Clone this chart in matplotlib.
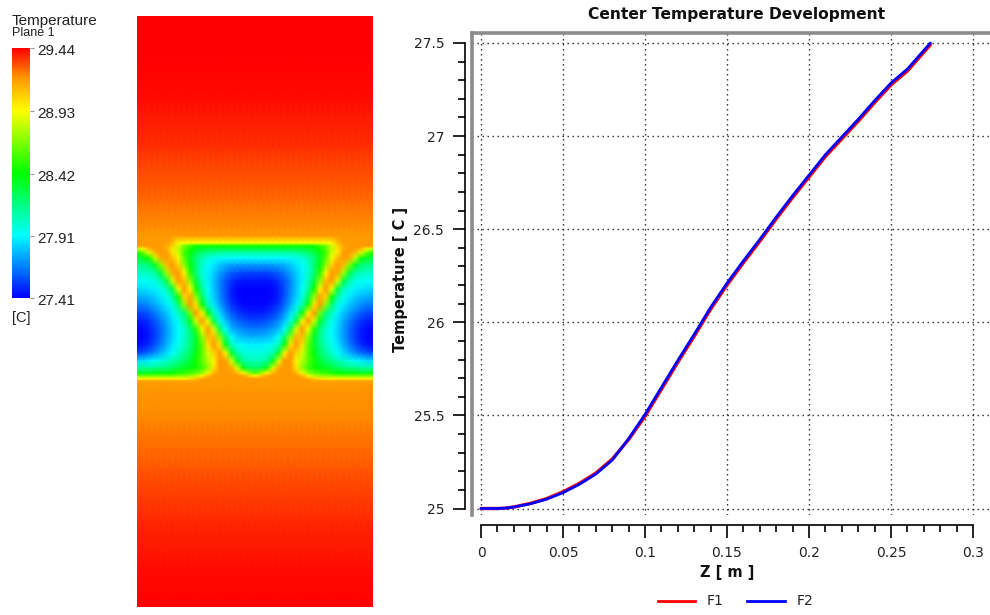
import numpy as np
import matplotlib
matplotlib.use('Agg')
import matplotlib.pyplot as plt
from matplotlib.colors import LinearSegmentedColormap, Normalize
from matplotlib.cm import ScalarMappable
from matplotlib.lines import Line2D
from matplotlib.ticker import FixedLocator
from matplotlib.transforms import ScaledTranslation

# curve
z_pos = [0, .01, .015, .02, .03, .04, .05, .06, .07, .08, .09, .1, .11, .12, .13, .14, .15,
         .16, .17, .18, .19, .2, .21, .22, .23, .24, .25, .26, .27, .274]
temp_f2 = [25, 25, 25.002, 25.008, 25.025, 25.05, 25.085, 25.13, 25.185, 25.26, 25.375, 25.505,
           25.65, 25.795, 25.935, 26.08, 26.21, 26.33, 26.445, 26.565, 26.68, 26.79, 26.9, 26.995,
           27.09, 27.19, 27.285, 27.36, 27.46, 27.5]
temp_f1 = [25, 25, 25.002, 25.008, 25.027, 25.053, 25.09, 25.135, 25.19, 25.265, 25.37, 25.495,
           25.64, 25.785, 25.925, 26.07, 26.2, 26.32, 26.435, 26.555, 26.67, 26.78, 26.89, 26.985,
           27.08, 27.18, 27.275, 27.35, 27.45, 27.49]

cbar_ticks = [27.41, 27.91, 28.42, 28.93, 29.44]

# temperature on the plane, left half of the picture (it is mirror symmetric)
plane_x = [137 + 5.9 * i for i in range(41)]
band_y = [236, 243, 246, 249, 253, 258, 265, 273, 281, 289, 297, 305, 313, 321, 329, 337, 345,
          353, 361, 368, 373, 376, 379, 381, 384]
band_t = [
    [29.19]*21,
    [29.19]*6 + [29.1, 28.95] + [28.92]*13,
    [29.19]*5 + [29.15, 29.05, 28.85, 28.65, 28.55] + [28.45]*11,
    [28.8, 28.95, 29.1, 29.19, 29.19, 29.15, 29.0, 28.8, 28.6, 28.45, 28.38, 28.33] + [28.3]*9,
    [28.5, 28.6, 28.85, 29.1, 29.19, 29.19, 29.0, 28.85, 28.55, 28.4, 28.28, 28.2, 28.15, 28.12, 28.1, 28.09, 28.08, 28.08, 28.08, 28.08, 28.08],
    [28.3, 28.35, 28.45, 28.8, 29.15, 29.19, 29.1, 28.9, 28.6, 28.35, 28.2, 28.08, 28.0, 27.96, 27.94, 27.93, 27.92, 27.92, 27.92, 27.92, 27.92],
    [28.15, 28.15, 28.2, 28.35, 28.7, 29.1, 29.19, 29.05, 28.7, 28.4, 28.2, 28.02, 27.92, 27.87, 27.81, 27.76, 27.74, 27.73, 27.72, 27.72, 27.72],
    [28.03, 28.03, 28.05, 28.1, 28.3, 28.75, 29.15, 29.19, 28.95, 28.5, 28.2, 28.0, 27.9, 27.82, 27.73, 27.66, 27.6, 27.57, 27.55, 27.55, 27.55],
    [27.93, 27.93, 27.95, 27.98, 28.08, 28.3, 28.85, 29.19, 29.1, 28.7, 28.3, 28.05, 27.9, 27.8, 27.68, 27.58, 27.52, 27.47, 27.45, 27.45, 27.45],
    [27.84, 27.85, 27.87, 27.9, 27.96, 28.05, 28.3, 28.9, 29.19, 28.95, 28.45, 28.12, 27.93, 27.8, 27.68, 27.57, 27.48, 27.43, 27.41, 27.41, 27.41],
    [27.75, 27.76, 27.78, 27.82, 27.88, 27.95, 28.1, 28.45, 29.05, 29.15, 28.7, 28.25, 27.98, 27.83, 27.7, 27.58, 27.48, 27.43, 27.41, 27.41, 27.41],
    [27.65, 27.66, 27.7, 27.75, 27.8, 27.88, 27.98, 28.2, 28.7, 29.19, 29.0, 28.45, 28.08, 27.88, 27.75, 27.62, 27.52, 27.46, 27.43, 27.42, 27.42],
    [27.55, 27.56, 27.6, 27.66, 27.73, 27.8, 27.9, 28.05, 28.2, 28.65, 29.19, 28.95, 28.4, 28.05, 27.85, 27.7, 27.6, 27.53, 27.49, 27.47, 27.47],
    [27.47, 27.48, 27.52, 27.58, 27.66, 27.75, 27.85, 27.95, 28.1, 28.35, 28.85, 29.19, 28.9, 28.3, 27.98, 27.8, 27.68, 27.62, 27.58, 27.56, 27.55],
    [27.42, 27.43, 27.47, 27.54, 27.62, 27.72, 27.83, 27.92, 28.02, 28.2, 28.5, 28.9, 29.19, 28.85, 28.25, 27.93, 27.78, 27.72, 27.68, 27.66, 27.65],
    [27.41, 27.42, 27.46, 27.53, 27.62, 27.72, 27.83, 27.93, 28.02, 28.15, 28.35, 28.7, 29.1, 29.1, 28.7, 28.2, 27.92, 27.83, 27.79, 27.77, 27.76],
    [27.43, 27.45, 27.5, 27.57, 27.66, 27.76, 27.87, 27.95, 28.05, 28.18, 28.35, 28.6, 29.0, 29.19, 29.0, 28.4, 28.05, 27.95, 27.92, 27.9, 27.9],
    [27.55, 27.57, 27.62, 27.68, 27.76, 27.84, 27.92, 28.02, 28.12, 28.22, 28.4, 28.6, 28.85, 29.05, 29.19, 28.95, 28.35, 28.08, 28.0, 27.98, 27.98],
    [27.85, 27.86, 27.9, 27.93, 27.97, 28.02, 28.08, 28.15, 28.22, 28.32, 28.45, 28.6, 28.78, 28.95, 29.19, 29.19, 28.85, 28.35, 28.12, 28.07, 28.07],
    [28.1, 28.12, 28.12, 28.15, 28.17, 28.2, 28.25, 28.3, 28.36, 28.4, 28.45, 28.55, 28.7, 29.0, 29.19, 29.19, 29.15, 28.85, 28.4, 28.25, 28.22],
    [28.35, 28.35, 28.36, 28.37, 28.38, 28.4, 28.42, 28.48, 28.52, 28.55, 28.6, 28.7, 28.9, 29.1, 29.19, 29.19, 29.19, 29.1, 28.95, 28.7, 28.55],
    [28.65]*7 + [28.68, 28.7, 28.74, 28.8, 28.95, 29.1] + [29.19]*5 + [29.15, 29.05, 28.95],
    [28.95]*9 + [29.0, 29.05, 29.15] + [29.19]*9,
    [29.15]*11 + [29.19]*10,
    [29.19]*21,
]
# above and below the band the field only changes with height
top_y = [16, 60, 100, 150, 200]
top_t = [29.44, 29.44, 29.42, 29.36, 29.27]
bottom_y = [420, 470, 520, 570, 607]
bottom_t = [29.22, 29.3, 29.37, 29.42, 29.44]

half = np.array(band_t)
band = np.hstack([half, half[:, -2::-1]])
plane_y = np.array(top_y + band_y + bottom_y)
plane_t = np.vstack([np.tile(np.array(top_t)[:, None], 41), band,
                     np.tile(np.array(bottom_t)[:, None], 41)])

fig = plt.figure(figsize=(9.9, 6.15), dpi=100)
W, H = 990, 615


def box(x0, y0, x1, y1):
    return [x0 / W, 1 - y1 / H, (x1 - x0) / W, (y1 - y0) / H]


cmap = LinearSegmentedColormap.from_list('cfx', [(0, '#0000ff'), (.25, '#00ffff'), (.5, '#00ff00'), (.75, '#ffff00'),
                                                 (.88, '#ff9900'), (1, '#ff0000')])
norm = Normalize(27.41, 29.44)

# contour plane
ax0 = fig.add_axes(box(137, 16, 373, 607))
ax0.pcolormesh(plane_x, plane_y, plane_t, cmap=cmap, norm=norm, shading='gouraud')
ax0.set_xlim(137, 373)
ax0.set_ylim(607, 16)
ax0.axis('off')

# colour bar
cax = fig.add_axes(box(12, 48, 30, 298))
cb = fig.colorbar(ScalarMappable(norm=norm, cmap=cmap), cax=cax)
cb.outline.set_visible(False)
cb.set_ticks(cbar_ticks)
cb.ax.set_yticklabels(['%.2f' % t for t in cbar_ticks], family='Liberation Sans', fontsize=11, color='#222222')
cb.ax.tick_params(length=3, width=0.8, color='#999999', pad=2)
for lab in cb.ax.get_yticklabels():
    lab.set_transform(lab.get_transform() + ScaledTranslation(0, -1.5 / 100, fig.dpi_scale_trans))
fig.text(12 / W, 1 - 21 / H, 'Temperature', family='Liberation Sans', fontsize=11, color='#222222', va='center')
fig.text(12 / W, 1 - 33.5 / H, 'Plane 1', family='Liberation Sans', fontsize=9, color='#222222', va='center')
fig.text(12 / W, 1 - 318 / H, '[C]', family='Liberation Sans', fontsize=10.5, color='#222222', va='center')

# line chart, the axes box runs up to the grey frame
px_x = (973 - 481) / 0.3
px_y = (508.5 - 43) / 2.5
ax = fig.add_axes(box(472, 33, 990, 515))
ax.set_xlim(-9 / px_x, (990 - 481) / px_x)
ax.set_ylim(25 - 6.5 / px_y, 27.5 + 10 / px_y)
ax.plot(z_pos, temp_f1, color='#ff0000', lw=2.4, solid_capstyle='round')
ax.plot(z_pos, temp_f2, color='#0000ff', lw=2.0, solid_capstyle='round')

ax.set_xticks([0, .05, .1, .15, .2, .25, .3])
ax.set_xticklabels(['0', '0.05', '0.1', '0.15', '0.2', '0.25', '0.3'])
ax.set_yticks([25, 25.5, 26, 26.5, 27, 27.5])
ax.set_yticklabels(['25', '25.5', '26', '26.5', '27', '27.5'])
ax.xaxis.set_minor_locator(FixedLocator([i / 100 for i in range(31) if i % 5]))
ax.yaxis.set_minor_locator(FixedLocator([25 + i / 10 for i in range(26) if i % 5]))
ax.grid(True, which='major', color='#222222', lw=1.0, ls=(0, (1, 2.6)))
ax.set_axisbelow(True)

ax.spines['right'].set_visible(False)
ax.spines['top'].set_color('#8c8c8c')
ax.spines['top'].set_linewidth(2.6)
ax.spines['left'].set_position(('outward', 5))
ax.spines['left'].set_bounds(25, 27.5)
ax.spines['left'].set_linewidth(1.2)
ax.spines['bottom'].set_position(('outward', 7))
ax.spines['bottom'].set_bounds(0, 0.3)
ax.spines['bottom'].set_linewidth(1.2)
ax.tick_params(which='major', length=9, width=1.2, labelsize=10, labelcolor='#222222', pad=6)
ax.tick_params(which='minor', length=5, width=1.2)
ax.axvline(ax.get_xlim()[0], color='#8c8c8c', lw=2.6, clip_on=False)

fig.text(737 / W, 1 - 14 / H, 'Center Temperature Development', fontsize=11.2, fontweight='bold',
         ha='center', va='center', color='#111111')
fig.text(400 / W, 1 - 279 / H, 'Temperature [ C ]', fontsize=10.5, fontweight='bold', rotation=90,
         ha='center', va='center', color='#111111')
fig.text(727 / W, 1 - 573 / H, 'Z [ m ]', fontsize=10.5, fontweight='bold', ha='center', va='center',
         color='#111111')

# legend
fig.add_artist(Line2D([658 / W, 695 / W], [1 - 601 / H] * 2, color='#ff0000', lw=2))
fig.add_artist(Line2D([747 / W, 785 / W], [1 - 601 / H] * 2, color='#0000ff', lw=2))
fig.text(707 / W, 1 - 601 / H, 'F1', fontsize=10, va='center', color='#222222')
fig.text(797 / W, 1 - 601 / H, 'F2', fontsize=10, va='center', color='#222222')

fig.savefig('out.png', dpi=100)
